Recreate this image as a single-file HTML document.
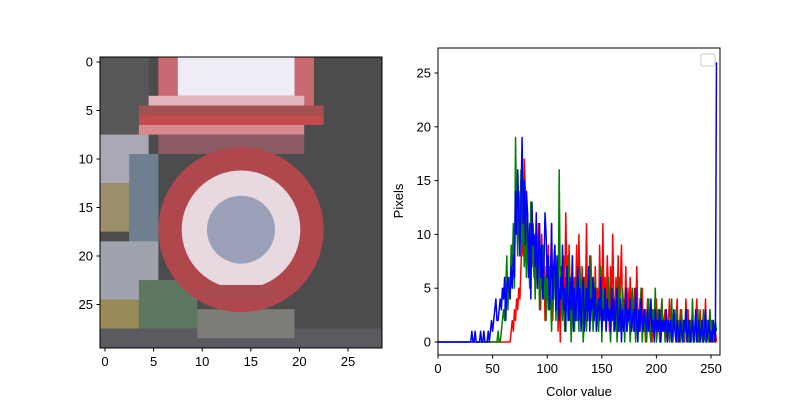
<!DOCTYPE html>
<html><head><meta charset="utf-8"><style>
body{margin:0;background:#fff;}
svg text{font-family:"Liberation Sans","DejaVu Sans",sans-serif;font-size:13px;fill:#000;}
</style></head><body>
<svg id="fig" width="800" height="400" xmlns="http://www.w3.org/2000/svg">
<g>
<svg x="100" y="57" width="282" height="291" viewBox="-0.5 -0.5 29 30" preserveAspectRatio="none">
<rect x="-0.5" y="-0.5" width="29" height="30" fill="#4c4c4c"/>
<rect x="-0.5" y="-0.5" width="5" height="9" fill="#585656"/>
<rect x="-0.5" y="7.5" width="5" height="5" fill="#a9a8b4"/>
<rect x="-0.5" y="12.5" width="3" height="5" fill="#9d8f6a"/>
<rect x="2.5" y="9.5" width="3" height="10" fill="#6f7f90"/>
<rect x="-0.5" y="18.5" width="6" height="6" fill="#9ea3ad"/>
<rect x="-0.5" y="24.5" width="4" height="3" fill="#9a8a58"/>
<rect x="3.5" y="22.5" width="6" height="5" fill="#5c7862"/>
<rect x="-0.5" y="27.5" width="29" height="2" fill="#5a5a60"/>
<rect x="9.5" y="25.5" width="10" height="3" fill="#7a7d78"/>
<rect x="5.5" y="-0.5" width="16" height="5" fill="#c86a70"/>
<rect x="7.5" y="-0.5" width="12" height="4" fill="#eeecf4"/>
<rect x="4.5" y="3.5" width="16" height="1" fill="#e2b4bc"/>
<rect x="3.5" y="4.5" width="19" height="1" fill="#a45050"/>
<rect x="3.5" y="5.5" width="19" height="1" fill="#c44a4c"/>
<rect x="3.5" y="6.5" width="17" height="1" fill="#d9898e"/>
<rect x="5.5" y="7.5" width="15" height="2" fill="#8c5a62"/>
<circle cx="14" cy="17.3" r="7.3" fill="#e8d8e0" stroke="#b0474c" stroke-width="2.4"/>
<circle cx="14" cy="17.3" r="3.5" fill="#9aa0b8"/>
<rect x="10" y="23" width="8" height="1.5" fill="#a94a50"/>
</svg>
<rect x="100" y="57" width="282" height="291" fill="none" stroke="#000" stroke-width="1"/>
</g>
<g id="imgticks"></g>
<g>
<rect x="438" y="48" width="282" height="307" fill="#fff"/>
<g id="series"></g>
<rect x="438" y="48" width="282" height="307" fill="none" stroke="#000" stroke-width="1"/>
<rect x="701" y="54" width="14" height="12" rx="2" fill="#fff" stroke="#ccc"/>
<g id="hticks"></g>
<text x="579" y="396" text-anchor="middle">Color value</text>
<text transform="translate(403,201) rotate(-90)" text-anchor="middle">Pixels</text>
</g>
</svg>
<script>
const blue=[0,0,0,0,0,0,0,0,0,0,0,0,0,0,0,0, 0,0,0,0,0,0,0,0,0,0,0,0,0,0,0,1,
0,0,1,0,0,0,0,1,0,0,1,0,0,0,1,0, 1,2,1,2,3,4,2,2,3,4,3,5,4,6,2,5,
6,5,4,7,5,8,6,14,10,16,12,8,13,19,11,15, 9,14,12,6,11,4,13,9,10,7,12,5,8,11,6,9,
4,7,12,10,6,8,3,5,11,4,7,9,3,8,5,2, 6,4,9,3,5,1,7,4,2,6,3,8,1,5,2,4,
7,2,5,1,4,6,1,3,5,2,7,1,4,3,6,2, 5,1,3,4,2,6,1,3,2,5,1,4,2,3,1,5,
2,4,1,3,5,1,2,4,0,3,1,2,5,1,3,2, 4,1,2,3,1,5,2,0,3,1,4,2,1,3,2,1,
3,1,2,4,1,2,0,3,1,2,1,3,0,2,1,2, 1,3,0,2,1,2,0,1,3,1,0,2,1,0,2,1,
0,2,1,3,0,1,2,0,1,2,0,1,3,0,1,2, 0,1,2,0,1,3,0,1,2,0,1,0,2,1,0,26];
const red=[0,0,0,0,0,0,0,0,0,0,0,0,0,0,0,0, 0,0,0,0,0,0,0,0,0,0,0,0,0,0,0,0,
0,0,0,0,0,0,0,0,0,0,0,0,0,0,0,0, 0,0,0,0,0,0,0,0,0,0,0,0,0,0,0,0,
0,0,0,1,2,1,3,2,4,3,5,4,7,10,8,17, 14,9,11,6,10,5,12,8,6,9,7,5,11,8,3,10,
5,8,2,7,4,9,3,6,11,2,5,8,4,7,1,5, 0,6,3,8,4,12,6,2,9,5,1,8,3,6,4,9,
2,10,5,3,7,1,6,4,11,2,5,3,8,4,6,2, 7,3,5,1,9,4,2,11,3,6,2,8,5,1,7,3,
10,4,2,6,3,8,1,5,9,2,4,3,7,1,5,2, 6,3,4,1,5,2,7,3,1,4,2,5,1,3,0,2,
4,1,3,2,0,3,1,2,4,1,3,0,2,4,1,2, 3,1,0,2,4,1,2,0,3,1,2,4,0,1,3,2,
1,2,0,4,1,3,0,2,1,3,0,1,2,4,0,1, 3,1,2,0,1,4,0,2,1,3,0,1,2,0,1,0];
const green=[0,0,0,0,0,0,0,0,0,0,0,0,0,0,0,0, 0,0,0,0,0,0,0,0,0,0,0,0,0,0,0,0,
0,0,0,0,0,0,0,0,0,0,0,0,0,0,0,0, 0,0,0,0,0,0,0,1,0,0,1,2,3,2,5,8,
3,6,4,9,7,11,5,19,12,8,14,10,16,9,13,7, 10,6,12,8,5,13,7,11,9,4,10,6,8,3,7,5,
9,4,6,2,8,3,7,5,1,6,4,9,2,5,3,16, 4,7,2,5,1,6,3,8,2,4,0,5,3,1,6,2,
4,1,7,3,5,0,2,6,1,4,3,8,2,5,1,3, 6,2,4,1,3,7,0,5,2,3,1,4,6,2,0,3,
5,1,2,4,0,3,6,1,2,5,3,0,4,1,2,3, 0,2,5,1,3,0,4,2,1,3,5,0,2,1,3,0,
2,4,1,0,3,1,2,5,0,1,3,2,0,4,1,2, 0,3,1,2,0,1,4,0,2,1,3,0,1,2,0,3,
1,0,2,1,3,0,1,2,0,4,1,0,2,1,3,0, 1,2,0,3,1,0,2,1,0,3,1,2,0,1,2,1];
const xTicks=[0,50,100,150,200,250];
const yTicks=[0,5,10,15,20,25];
const imgTicks=[0,5,10,15,20,25];
const NS="http://www.w3.org/2000/svg";
const xS=v=>438+v*1.092;
const yS=v=>342-v*10.76;
function mk(tag,attrs,parent){const e=document.createElementNS(NS,tag);for(const k in attrs)e.setAttribute(k,attrs[k]);parent.appendChild(e);return e;}
const sg=document.getElementById('series');
[[red,'#ff0000','red-channel-line'],[green,'#008000','green-channel-line'],[blue,'#0000ff','blue-channel-line']].forEach(([arr,col,nm])=>{
  const d=arr.map((v,i)=>(i?'L':'M')+xS(i).toFixed(2)+','+yS(v).toFixed(2)).join('');
  const p=mk('path',{d:d,fill:'none',stroke:col,'stroke-width':1.5,'stroke-linejoin':'round'},sg);
  
  
});
const ht=document.getElementById('hticks');
xTicks.forEach(t=>{const x=xS(t);
  mk('line',{x1:x,x2:x,y1:355,y2:358.5,stroke:'#000'},ht);
  const tx=mk('text',{x:x,y:373,'text-anchor':'middle'},ht);tx.textContent=t;
  
  });
yTicks.forEach(t=>{const y=yS(t);
  mk('line',{x1:434.5,x2:438,y1:y,y2:y,stroke:'#000'},ht);
  const tx=mk('text',{x:431,y:y+4.5,'text-anchor':'end'},ht);tx.textContent=t;
  
  });
const it=document.getElementById('imgticks');
imgTicks.forEach(t=>{const x=105+t*9.72,y=62+t*9.7;
  mk('line',{x1:x,x2:x,y1:348,y2:351.5,stroke:'#000'},it);
  const a=mk('text',{x:x,y:366,'text-anchor':'middle'},it);a.textContent=t;
  
  
  mk('line',{x1:96.5,x2:100,y1:y,y2:y,stroke:'#000'},it);
  const b=mk('text',{x:93,y:y+4.5,'text-anchor':'end'},it);b.textContent=t;
  
  });
</script>
</body></html>
